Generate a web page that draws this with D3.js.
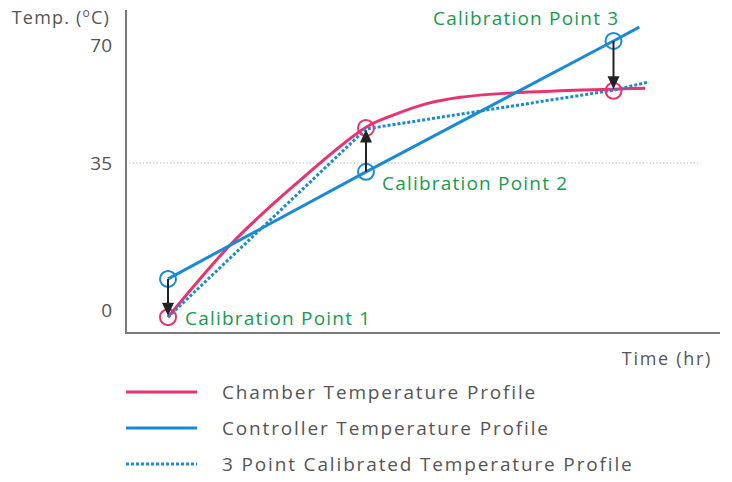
<!DOCTYPE html>
<html><head><meta charset="utf-8">
<script src="https://cdn.jsdelivr.net/npm/d3@7"></script>
<style>
html,body{margin:0;padding:0;background:#fff;}
svg{display:block;font-family:"Open Sans",sans-serif;}
</style></head>
<body><svg id="c" width="732" height="482"></svg>
<script>
// ---- data ----
const yTicks = [0, 35, 70];
const calibTimes = [1, 5, 10];
const controllerAtCalib = [7.4, 32.9, 71.2];
const chamberAtCalib = [-1.7, 45.4, 56.4];
const calibLabels = ["Calibration Point 1", "Calibration Point 2", "Calibration Point 3"];

const controllerTime = [1, 5, 10, 10.52];
const controllerTemp = [7.4, 32.9, 71.2, 75.3];

const chamberTime = [1, 2.3, 3.6, 5, 5.55, 6.23, 6.9, 7.97, 8.92, 10, 10.64];
const chamberTemp = [-1.7, 16, 30.2, 45.6, 49.2, 52.6, 54.5, 55.8, 56.4, 56.9, 57.2];

const calibratedTime = [1, 5, 10, 10.7];
const calibratedTemp = [-1.7, 45.1, 56.6, 59.0];

const legendLabels = ["Chamber Temperature Profile", "Controller Temperature Profile", "3 Point Calibrated Temperature Profile"];

// ---- style ----
const RED = "#e8336f", BLUE = "#1a8ad8", GREEN = "#199a4d", TXT = "#555", AX = "#7a7a7a";

const svg = d3.select("#c");
const x = d3.scaleLinear().domain([0, 12]).range([118.5, 712.5]);
const y = d3.scaleLinear().domain([0, 35, 70]).range([310, 163, 45]);

const frame = {left: 126, top: 10, bottom: 333, right: 720};

// grid line at 35
svg.append("line")
  .attr("x1", frame.left).attr("x2", 701)
  .attr("y1", y(35)).attr("y2", y(35))
  .attr("stroke", "#b0b0b0").attr("stroke-width", 1).attr("stroke-dasharray", "1.2,2.2");

// y axis
const yAxis = svg.append("g").attr("transform", `translate(${frame.left},0)`)
  .call(d3.axisLeft(y).tickValues(yTicks).tickSize(0).tickPadding(14).tickFormat(d3.format("d")));
yAxis.select(".domain").remove();
yAxis.selectAll("text").attr("fill", TXT).style("font-size", "19px").style("font-family", "Open Sans").attr("dy", "0.35em");

svg.append("line").attr("x1", frame.left).attr("x2", frame.left).attr("y1", frame.top).attr("y2", frame.bottom + 1)
  .attr("stroke", AX).attr("stroke-width", 2);
svg.append("line").attr("x1", frame.left - 1).attr("x2", frame.right).attr("y1", frame.bottom).attr("y2", frame.bottom)
  .attr("stroke", AX).attr("stroke-width", 2);

// axis titles
const yt = svg.append("text").attr("x", 110).attr("y", 24).attr("text-anchor", "end")
  .attr("fill", TXT).style("font-size", "18px").style("letter-spacing", "1.2px");
yt.append("tspan").text("Temp. (");
yt.append("tspan").text("o").style("font-size", "12px").attr("dy", "-7");
yt.append("tspan").text("C)").attr("dy", "7");

svg.append("text").attr("x", 712).attr("y", 365).attr("text-anchor", "end")
  .attr("fill", TXT).style("font-size", "18px").style("letter-spacing", "1.7px").text("Time (hr)");

// lines
const mk = (ts, vs) => ts.map((t, i) => [t, vs[i]]);
const lineStraight = d3.line().x(d => x(d[0])).y(d => y(d[1]));
const lineSmooth = d3.line().x(d => x(d[0])).y(d => y(d[1])).curve(d3.curveCatmullRom.alpha(0.5));

svg.append("path").attr("d", lineSmooth(mk(chamberTime, chamberTemp)))
  .attr("fill", "none").attr("stroke", RED).attr("stroke-width", 3);
svg.append("path").attr("d", lineStraight(mk(controllerTime, controllerTemp)))
  .attr("fill", "none").attr("stroke", BLUE).attr("stroke-width", 3);
svg.append("path").attr("d", lineStraight(mk(calibratedTime, calibratedTemp)))
  .attr("fill", "none").attr("stroke", BLUE).attr("stroke-width", 3).attr("stroke-dasharray", "3,2");

// circles
calibTimes.forEach((t, i) => {
  svg.append("circle").attr("cx", x(t)).attr("cy", y(controllerAtCalib[i])).attr("r", 8)
    .attr("fill", "none").attr("stroke", BLUE).attr("stroke-width", 2);
  svg.append("circle").attr("cx", x(t)).attr("cy", y(chamberAtCalib[i])).attr("r", 8)
    .attr("fill", "none").attr("stroke", RED).attr("stroke-width", 2);
});

// arrows
calibTimes.forEach((t, i) => {
  const x0 = x(t), y0 = y(controllerAtCalib[i]), y1 = y(chamberAtCalib[i]);
  const dir = y1 > y0 ? 1 : -1;
  const tipY = y1 - dir * 1.5;
  const headH = 13, headW = 6;
  svg.append("line").attr("x1", x0).attr("x2", x0).attr("y1", y0).attr("y2", tipY - dir * headH + dir * 1)
    .attr("stroke", "#222").attr("stroke-width", 2);
  svg.append("path")
    .attr("d", `M${x0},${tipY} L${x0 - headW},${tipY - dir * headH} L${x0 + headW},${tipY - dir * headH} Z`)
    .attr("fill", "#222");
});

// calibration labels
const labelPos = [[185, 325], [382, 190], [433, 25]];
calibLabels.forEach((s, i) => {
  svg.append("text").attr("x", labelPos[i][0]).attr("y", labelPos[i][1])
    .attr("fill", GREEN).style("font-size", "19px").style("letter-spacing", "1.2px").text(s);
});

// legend
const legY = [392, 428, 464];
const legStyles = [{c: RED, d: null}, {c: BLUE, d: null}, {c: BLUE, d: "3,2"}];
legendLabels.forEach((s, i) => {
  const l = svg.append("line").attr("x1", 126).attr("x2", 197).attr("y1", legY[i]).attr("y2", legY[i])
    .attr("stroke", legStyles[i].c).attr("stroke-width", 3);
  if (legStyles[i].d) l.attr("stroke-dasharray", legStyles[i].d);
  svg.append("text").attr("x", 222).attr("y", legY[i] + 7).attr("fill", TXT)
    .style("font-size", "19px").style("letter-spacing", "1.85px").text(s);
});
</script></body></html>
